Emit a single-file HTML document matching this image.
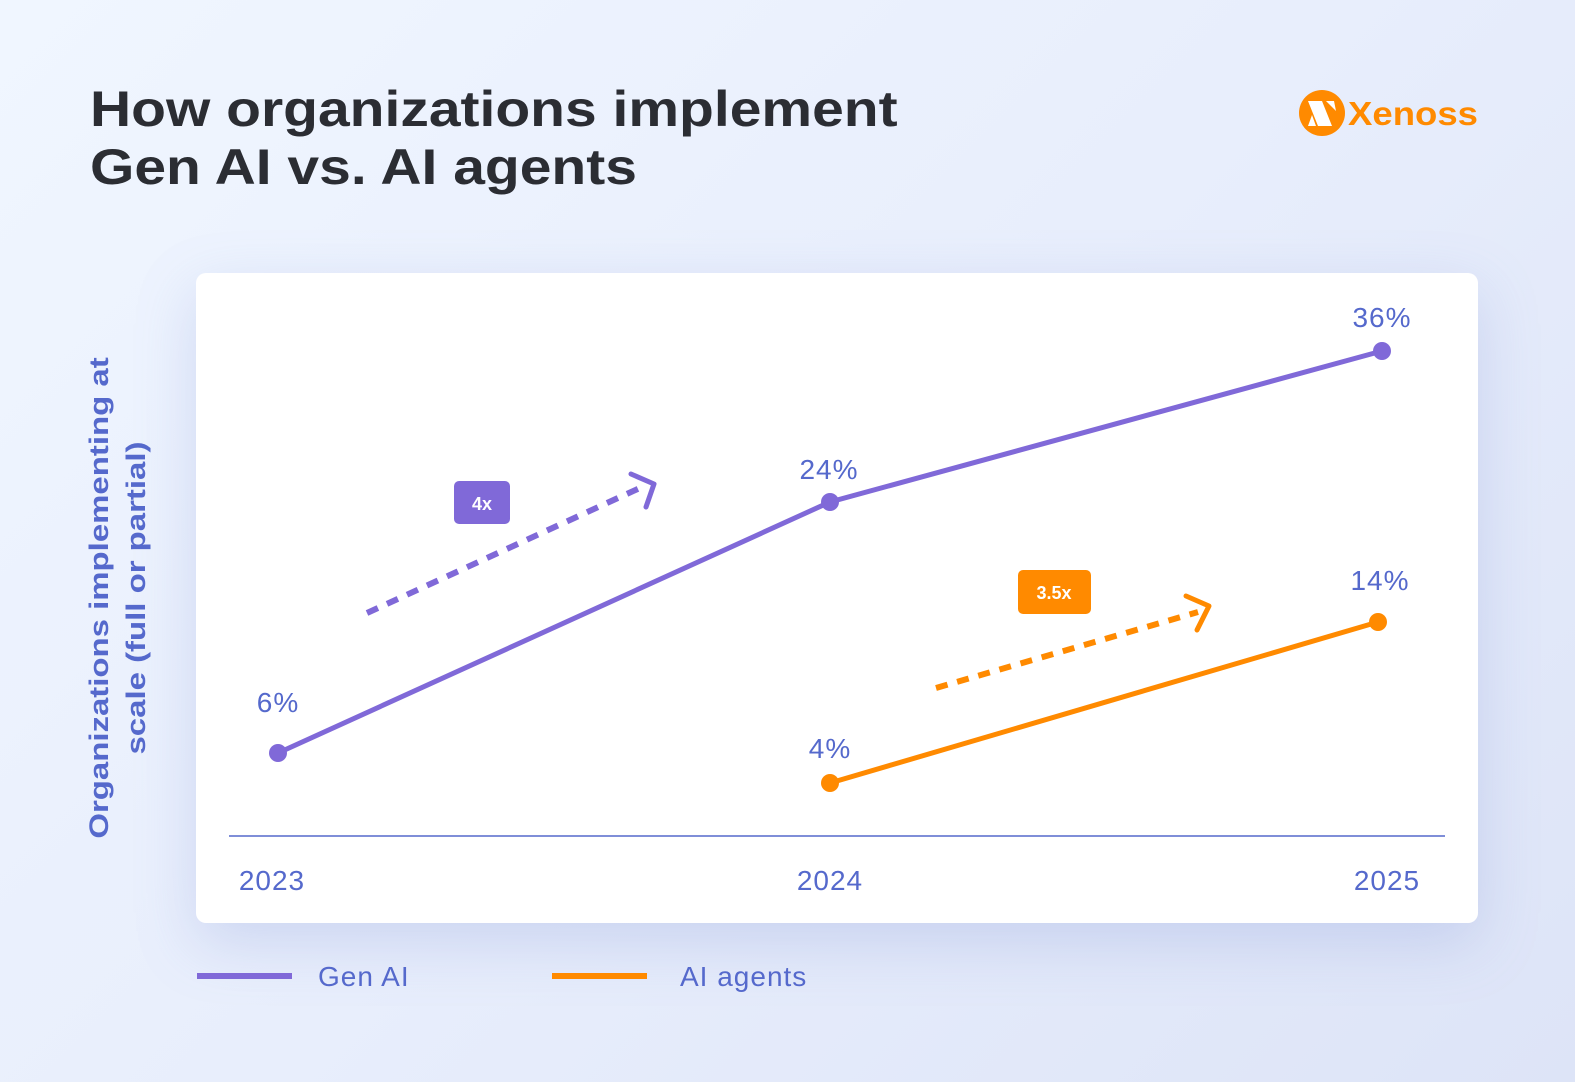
<!DOCTYPE html>
<html><head><style>
body{margin:0;width:1575px;height:1082px;overflow:hidden;font-family:"Liberation Sans",sans-serif;
background:linear-gradient(135deg,#f0f6ff 0%,#e8eefc 50%,#dde4f7 100%);position:relative}
.title{position:absolute;left:90px;top:80px;font-size:50px;font-weight:bold;color:#2b2d33;line-height:58px;transform:scaleX(1.14);transform-origin:0 0;white-space:nowrap}
.card{position:absolute;left:196px;top:273px;width:1282px;height:650px;background:#fff;border-radius:10px;box-shadow:0 20px 60px rgba(120,140,210,0.25)}
.yl{position:absolute;left:118px;top:598px;transform:translate(-50%,-50%) rotate(-90deg) scaleX(1.22);font-size:27px;font-weight:bold;color:#5569cc;text-align:center;line-height:37px;white-space:nowrap}
</style></head><body>
<div class="title">How organizations implement<br>Gen AI vs. AI agents</div>
<svg style="position:absolute;left:1298px;top:89px" width="190" height="50">
<circle cx="24" cy="24" r="23" fill="#ff8a00"/>
<polygon points="10,12 24,12 34,37 20,37" fill="#fff"/>
<polygon points="28,12 36,12 38,22" fill="#fff"/>
<polygon points="10,37 14,26 18,37" fill="#fff"/>
<text x="50" y="36" font-family="Liberation Sans" font-weight="bold" font-size="33" fill="#ff8a00" textLength="130" lengthAdjust="spacingAndGlyphs">Xenoss</text>
</svg>
<div class="card"></div>
<div class="yl">Organizations implementing at<br>scale (full or partial)</div>
<svg style="position:absolute;left:0;top:0" width="1575" height="1082" font-family="Liberation Sans">
<line x1="229" y1="836" x2="1445" y2="836" stroke="#5569cc" stroke-width="1.5"/>
<g font-size="28" fill="#5569cc" letter-spacing="1">
<text x="272" y="890" text-anchor="middle">2023</text>
<text x="830" y="890" text-anchor="middle">2024</text>
<text x="1387" y="890" text-anchor="middle">2025</text>
<text x="278" y="712" text-anchor="middle">6%</text>
<text x="829" y="479" text-anchor="middle">24%</text>
<text x="1382" y="327" text-anchor="middle">36%</text>
<text x="830" y="758" text-anchor="middle">4%</text>
<text x="1380" y="590" text-anchor="middle">14%</text>
</g>
<polyline points="278,753 830,502 1382,351" fill="none" stroke="#8069d8" stroke-width="5"/>
<circle cx="278" cy="753" r="9" fill="#8069d8"/><circle cx="830" cy="502" r="9" fill="#8069d8"/><circle cx="1382" cy="351" r="9" fill="#8069d8"/>
<polyline points="830,783 1378,622" fill="none" stroke="#ff8a00" stroke-width="5"/>
<circle cx="830" cy="783" r="9" fill="#ff8a00"/><circle cx="1378" cy="622" r="9" fill="#ff8a00"/>
<line x1="367" y1="613" x2="642" y2="487" stroke="#8069d8" stroke-width="6" stroke-dasharray="12,10"/>
<polyline points="631,474 654,484 646,507" fill="none" stroke="#8069d8" stroke-width="5" stroke-linecap="round" stroke-linejoin="round"/>
<line x1="936" y1="688" x2="1198" y2="612" stroke="#ff8a00" stroke-width="6" stroke-dasharray="12,10"/>
<polyline points="1186,596 1209,606 1197,630" fill="none" stroke="#ff8a00" stroke-width="5" stroke-linecap="round" stroke-linejoin="round"/>
<rect x="454" y="481" width="56" height="43" rx="5" fill="#8069d8"/>
<text x="482" y="510" text-anchor="middle" font-size="18" font-weight="bold" fill="#fff">4x</text>
<rect x="1018" y="570" width="73" height="44" rx="5" fill="#ff8a00"/>
<text x="1054" y="599" text-anchor="middle" font-size="18" font-weight="bold" fill="#fff">3.5x</text>
<line x1="197" y1="976" x2="292" y2="976" stroke="#8069d8" stroke-width="6"/>
<text x="318" y="986" font-size="28" fill="#5569cc" letter-spacing="1">Gen AI</text>
<line x1="552" y1="976" x2="647" y2="976" stroke="#ff8a00" stroke-width="6"/>
<text x="680" y="986" font-size="28" fill="#5569cc" letter-spacing="1">AI agents</text>
</svg>
</body></html>
